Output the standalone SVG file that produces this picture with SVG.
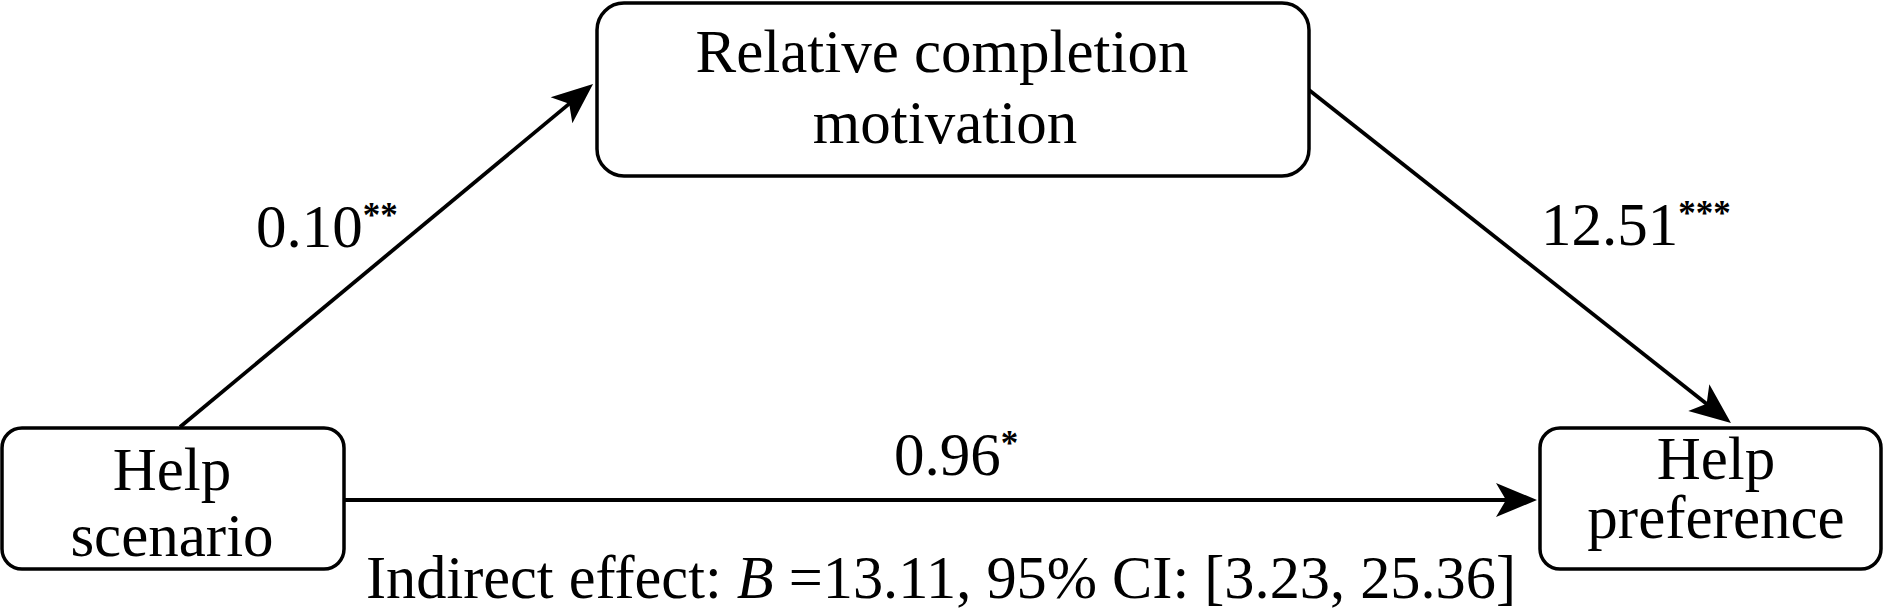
<svg xmlns="http://www.w3.org/2000/svg" width="1883" height="608" viewBox="0 0 1883 608">
  <defs>
    <style>
      .box { fill: #ffffff; stroke: #000000; stroke-width: 3.5; }
      .t { font-family: "Liberation Serif", "Times New Roman", serif; font-size: 61px; fill: #000000; text-anchor: middle; }
      .lbl { font-family: "Liberation Serif", "Times New Roman", serif; font-size: 61px; fill: #000000; }
      .sup { font-size: 35px; font-weight: bold; }
      .edge { fill: none; stroke: #000000; stroke-width: 3.8; marker-end: url(#arrow); }
    </style>
    <marker id="arrow" viewBox="-14 -18 44 36" refX="0" refY="0" markerWidth="44" markerHeight="36" markerUnits="userSpaceOnUse" orient="auto">
      <path d="M28,0 L-13,-17 L-3,0 L-13,17 Z" fill="#000000"/>
    </marker>
  </defs>
  <rect width="1883" height="608" fill="#ffffff"/>

  <g id="connectors">
    <line class="edge" x1="180" y1="427" x2="571.5" y2="101.9"/>
    <line class="edge" x1="1309" y1="90" x2="1709" y2="405.7"/>
    <line class="edge" x1="345" y1="500" x2="1509" y2="500"/>
  </g>

  <g id="node-mediator">
    <rect class="box" x="597" y="3" width="712" height="173" rx="27" ry="27"/>
    <text class="t" x="942" y="72">Relative completion</text>
    <text class="t" x="945" y="143">motivation</text>
  </g>

  <g id="node-x">
    <rect class="box" x="2" y="428" width="342" height="141" rx="20" ry="20"/>
    <text class="t" x="172" y="490">Help</text>
    <text class="t" x="172" y="556">scenario</text>
  </g>

  <g id="node-y">
    <rect class="box" x="1540" y="428" width="341" height="141" rx="20" ry="20"/>
    <text class="t" x="1716" y="479">Help</text>
    <text class="t" x="1716" y="538">preference</text>
  </g>

  <g id="labels">
    <text class="lbl" x="256" y="247">0.10<tspan class="sup" dy="-20">**</tspan></text>
    <text class="lbl" x="1541" y="245">12.51<tspan class="sup" dy="-20">***</tspan></text>
    <text class="lbl" x="894" y="475">0.96<tspan class="sup" dy="-20">*</tspan></text>
    <text class="lbl" x="366" y="598" textLength="1150" lengthAdjust="spacingAndGlyphs">Indirect effect: <tspan font-style="italic">B</tspan> =13.11, 95% CI: [3.23, 25.36]</text>
  </g>
</svg>
